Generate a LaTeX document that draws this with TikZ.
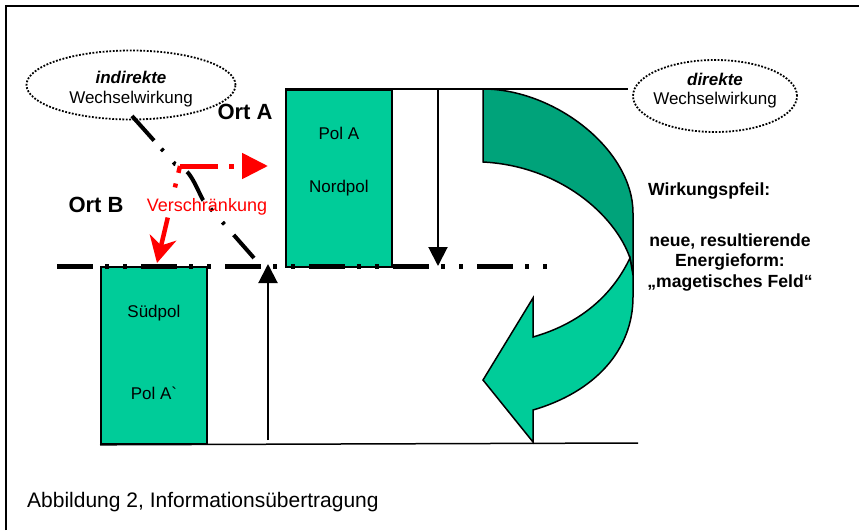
\documentclass[tikz,border=0pt]{standalone}
\usepackage{fontspec}
\setmainfont{Liberation Sans}
\usetikzlibrary{arrows.meta,shapes.geometric}
\definecolor{polgruen}{RGB}{0,204,153}
\definecolor{pfeildunkel}{RGB}{0,163,122}
\definecolor{verschrot}{RGB}{255,0,0}

\begin{document}
\begin{tikzpicture}[x=1pt, y=-1pt,
    pol/.style={draw, line width=1.8pt, fill=polgruen, minimum width=106pt, minimum height=177pt, inner sep=0pt, anchor=north west},
    wolke/.style={draw, ellipse, line width=1.8pt, dash pattern=on 1.8pt off 1.6pt, inner sep=0pt},
    schrift/.style={font=\fontsize{17}{20}\selectfont, inner sep=0pt},
    ort/.style={font=\fontsize{22}{26}\selectfont\bfseries, inner sep=0pt},
    pfeil/.style={line width=2pt, -{Triangle[length=19pt, width=19pt]}},
    achse/.style={line width=5pt, dash pattern=on 36pt off 12pt on 4pt off 14pt on 4pt off 14pt}]
    \useasboundingbox (0,0) rectangle (859,530);
    % Rahmen
    \draw[line width=2.5pt] (6,530) -- (6,6) -- (859,6);

    % Pole
    \node[pol] (pola) at (285,89) {};
    \node[pol] (suedpol) at (100,266) {};
    \node[schrift] (polatext) at ([yshift=-44pt]pola.north) {Pol A};
    \node[schrift] (nordtext) at ([yshift=-99pt]pola.north) {Nordpol};
    \node[schrift] (suedtext) at ([yshift=-47pt]suedpol.north) {Südpol};
    \node[schrift] (polstrich) at ([yshift=-127pt]suedpol.north) {Pol A\textasciigrave};

    % Linien oben/unten
    \coordinate (obenrechts) at (628,89);
    \coordinate (untenrechts) at (638,443);
    \draw[line width=1.5pt] (pola.north west) -- (obenrechts);
    \draw[line width=1.5pt] (suedpol.south west) -- (untenrechts);

    % Abstandspfeile
    \coordinate (ab1) at (438,89);
    \coordinate (ab2) at (438,266);
    \coordinate (auf1) at (268,440);
    \coordinate (auf2) at (268,264);
    \draw[pfeil] (ab1) -- (ab2);
    \draw[pfeil] (auf1) -- (auf2);

    % Wirkungspfeil
    \filldraw[fill=pfeildunkel, line width=1.5pt] (483,89) .. controls (555,89) and (633,150) .. (633,213)
        -- (633,275) -- (630,258) .. controls (615,215) and (560,166) .. (483,162) -- cycle;
    \filldraw[fill=polgruen, line width=1.5pt] (630,258) .. controls (610,300) and (575,325) .. (533,337)
        -- (533,298) -- (483,380) -- (533,442) -- (533,410) .. controls (595,392) and (633,350) .. (633,297)
        -- (633,275) -- cycle;

    % Achse
    \coordinate (achselinks) at (57,266);
    \coordinate (achserechts) at (550,266);
    \draw[achse] (achselinks) -- (achserechts);

    % Wechselwirkungen
    \node[wolke, minimum width=209pt, minimum height=69pt] (indirekt) at (131,85) {};
    \node[schrift] (indirekt1) at (131,77.5) {\textbf{\textit{indirekte}}};
    \node[schrift] (indirekt2) at (131,99) {Wechselwirkung};
    \node[wolke, minimum width=164pt, minimum height=72pt] (direkt) at (715,96) {};
    \node[schrift] (direkt1) at (715,79) {\textbf{\textit{direkte}}};
    \node[schrift] (direkt2) at (715,100) {Wechselwirkung};

    \coordinate (wellestart) at (132,116);
    \coordinate (welleende) at (254,258);
    \draw[line width=4pt, dash pattern=on 33pt off 11pt on 3pt off 15pt on 3pt off 14pt]
        (wellestart) -- (175,164) .. controls (190,168) and (195,185) .. (203,200) -- (welleende);

    % Orte
    \node[ort] (orta) at (245,112) {Ort A};
    \node[ort] (ortb) at (96,205) {Ort B};

    % Verschraenkung
    \coordinate (knick) at (180,166);
    \coordinate (zielA) at (268,166);
    \coordinate (zielB) at (157,263);
    \draw[verschrot, line width=5pt, dash pattern=on 38pt off 11pt on 5pt off 30pt,
        -{Triangle[length=26pt, width=25pt]}] (knick) -- (zielA);
    \draw[verschrot, line width=4.5pt, dash pattern=on 7pt off 11pt on 4pt off 31pt on 80pt,
        -{Stealth[length=26pt, width=27pt, inset=8pt]}] (knick) -- (zielB);
    \node[schrift, text=verschrot, font=\fontsize{18}{21}\selectfont] (verschr) at (207,207) {Verschränkung};

    % Erklaerung
    \node[anchor=west, inner sep=0pt, font=\fontsize{17.6}{20.5}\selectfont\bfseries] (wirkung) at (648,191) {Wirkungspfeil:};
    \node[align=center, inner sep=0pt, font=\fontsize{17.6}{20.5}\selectfont\bfseries] (energie) at (730,262)
        {neue, resultierende\\Energieform:\\„magetisches Feld“};

    % Bildunterschrift
    \node[anchor=west, inner sep=0pt, font=\fontsize{21}{25}\selectfont] (caption) at (27,502) {Abbildung 2, Informationsübertragung};
\end{tikzpicture}
\end{document}
